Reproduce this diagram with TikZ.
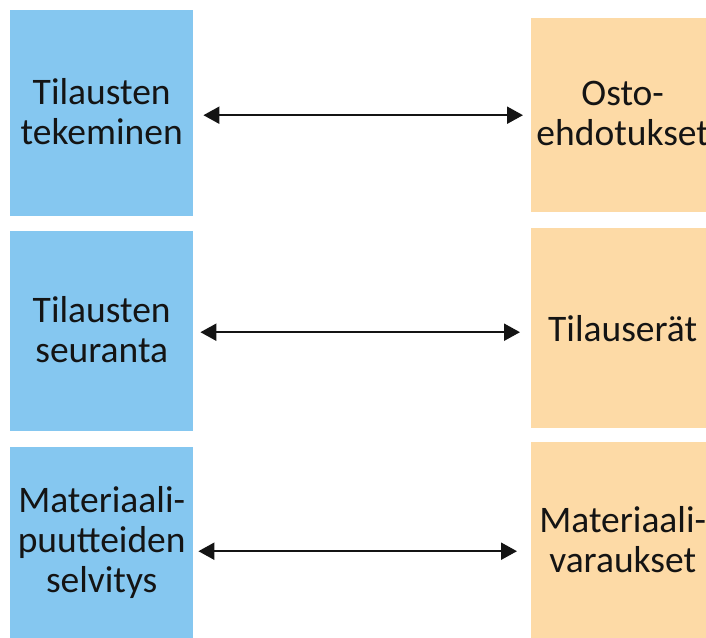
\documentclass[tikz,border=0pt]{standalone}
\usepackage{fontspec}
\setmainfont{Carlito}
\usetikzlibrary{arrows.meta}
\definecolor{boxblue}{RGB}{133,199,240}
\definecolor{boxorange}{RGB}{253,218,166}
\definecolor{ink}{RGB}{20,20,20}
\tikzset{
  panel/.style={anchor=north west, inner sep=0pt, align=center, text=ink,
    font=\fontsize{37.5}{40}\selectfont},
  leftpanel/.style={panel, fill=boxblue},
  rightpanel/.style={panel, fill=boxorange},
  biarrow/.style={draw=ink, line width=2.2pt,
    {Triangle[length=16pt,width=17pt]}-{Triangle[length=16pt,width=17pt]}}
}
\begin{document}
\begin{tikzpicture}[x=1pt,y=-1pt]
\useasboundingbox (0,0) rectangle (706,637);
\clip (0,0) rectangle (706,637);
\fill[white] (0,0) rectangle (706,637);

% left column
\node[leftpanel, minimum width=183pt, minimum height=206pt] (b1) at (10,10) {};
\node[leftpanel, minimum width=183pt, minimum height=200pt] (b2) at (10,231) {};
\node[leftpanel, minimum width=183pt, minimum height=192pt] (b3) at (10,447) {};
\node[panel, anchor=center, text=ink] (t1) at ([yshift=2pt]b1.center) {Tilausten\\tekeminen};
\node[panel, anchor=center, text=ink] (t2) at ([yshift=2pt]b2.center) {Tilausten\\seuranta};
\node[panel, anchor=center, text=ink] (t3) at ([yshift=1pt]b3.center) {Materiaali-\\puutteiden\\selvitys};

% right column
\node[rightpanel, minimum width=183pt, minimum height=194pt] (o1) at (531,18) {};
\node[rightpanel, minimum width=183pt, minimum height=200pt] (o2) at (531,228) {};
\node[rightpanel, minimum width=183pt, minimum height=197pt] (o3) at (531,442) {};
\node[panel, anchor=center, text=ink] (u1) at ([yshift=2pt]o1.center) {Osto-\\ehdotukset};
\node[panel, anchor=center, text=ink] (u2) at (o2.center) {Tilauserät};
\node[panel, anchor=center, text=ink] (u3) at ([yshift=1pt]o3.center) {Materiaali-\\varaukset};

% connectors
\coordinate (a1l) at ([xshift=10pt,yshift=-2pt]b1.east);
\coordinate (a2l) at ([xshift=7pt,yshift=-1pt]b2.east);
\coordinate (a3l) at ([xshift=5pt,yshift=-8pt]b3.east);
\coordinate (a1r) at ([xshift=-8pt]o1.west);
\coordinate (a2r) at ([xshift=-11pt]o2.west);
\coordinate (a3r) at ([xshift=-14pt]o3.west);
\draw[biarrow] (a1l) -- (a1l -| a1r);
\draw[biarrow] (a2l) -- (a2l -| a2r);
\draw[biarrow] (a3l) -- (a3l -| a3r);
\end{tikzpicture}
\end{document}
